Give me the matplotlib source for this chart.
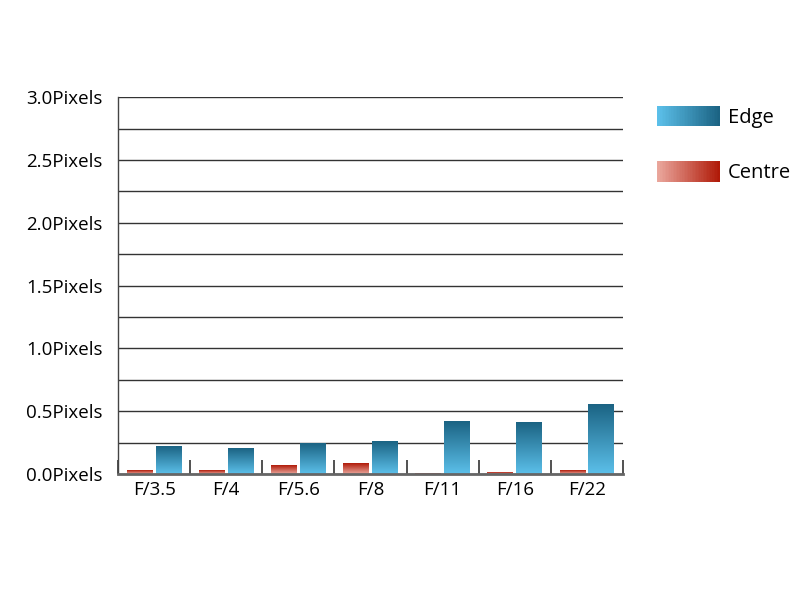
import numpy as np
import matplotlib
matplotlib.use("Agg")
import matplotlib.pyplot as plt
from matplotlib.colors import LinearSegmentedColormap
from matplotlib.patches import Rectangle
from matplotlib.legend_handler import HandlerBase

categories = ["F/3.5", "F/4", "F/5.6", "F/8", "F/11", "F/16", "F/22"]
centre = [0.03, 0.03, 0.065, 0.08, 0.005, 0.015, 0.03]
edge = [0.215, 0.205, 0.245, 0.26, 0.42, 0.41, 0.55]
ytick_values = [0.0, 0.5, 1.0, 1.5, 2.0, 2.5, 3.0]

edge_dark, edge_light = "#1b6383", "#5cc0ea"
centre_dark, centre_light = "#b01a08", "#eaa79d"

plt.rcParams['font.family'] = ['Open Sans', 'DejaVu Sans']

fig = plt.figure(figsize=(8, 6), dpi=100)
ax = fig.add_axes([0.1475, 0.21, 0.6313, 0.628])

x = np.arange(len(categories))
w = 0.36
b1 = ax.bar(x - 0.2, centre, w, color="none", edgecolor="none", zorder=3)
b2 = ax.bar(x + 0.2, edge, w, color="none", edgecolor="none", zorder=3)

def grad_cmap(light, dark):
    return LinearSegmentedColormap.from_list("g", [light, dark])

def fill_gradient(bars, light, dark):
    cm = grad_cmap(light, dark)
    grad = np.linspace(0, 1, 256).reshape(-1, 1)
    for p in bars:
        x0, y0 = p.get_x(), p.get_y()
        x1, y1 = x0 + p.get_width(), y0 + p.get_height()
        if y1 - y0 <= 0:
            continue
        ax.imshow(grad, cmap=cm, origin="lower", extent=[x0, x1, y0, y1],
                  aspect="auto", zorder=3, interpolation="bilinear")

fill_gradient(b1, centre_light, centre_dark)
fill_gradient(b2, edge_light, edge_dark)

ax.set_xlim(-0.5, len(categories) - 0.5)
ax.set_ylim(0, 3.0)
ax.set_aspect("auto")

ax.set_yticks(ytick_values)
ax.set_yticklabels([f"{v:.1f}Pixels" for v in ytick_values], fontsize=13.5)
ax.set_yticks(np.arange(0.25, 3.0, 0.5), minor=True)
ax.tick_params(axis="y", which="both", length=0, pad=11)
ax.grid(axis="y", which="both", color="#333333", linewidth=1.0, zorder=1)

ax.set_xticks(x)
ax.set_xticklabels(categories, fontsize=13.5)
ax.set_xticks(np.arange(-0.5, len(categories) + 0.5, 1.0), minor=True)
ax.tick_params(axis="x", which="major", length=0, pad=5)
ax.tick_params(axis="x", which="minor", direction="in", length=10,
               width=1.2, color="#333333")

for s in ["top", "right"]:
    ax.spines[s].set_visible(False)
ax.spines["left"].set_color("#444444")
ax.spines["left"].set_linewidth(1.0)
ax.spines["bottom"].set_color("#666666")
ax.spines["bottom"].set_linewidth(2.0)
ax.spines["bottom"].set_zorder(4)


class GradHandler(HandlerBase):
    def __init__(self, light, dark):
        super().__init__()
        self.light, self.dark = light, dark

    def create_artists(self, legend, orig_handle, xdescent, ydescent,
                       width, height, fontsize, trans):
        cm = grad_cmap(self.light, self.dark)
        n = 40
        arts = []
        for i in range(n):
            r = Rectangle((-xdescent + width * i / n, -ydescent), width / n + 0.3,
                          height, facecolor=cm(i / (n - 1)), edgecolor="none",
                          transform=trans)
            arts.append(r)
        return arts


h_edge = Rectangle((0, 0), 1, 1)
h_centre = Rectangle((0, 0), 1, 1)
leg = fig.legend([h_edge, h_centre], ["Edge", "Centre"],
                 handler_map={h_edge: GradHandler(edge_light, edge_dark),
                              h_centre: GradHandler(centre_light, centre_dark)},
                 loc="upper left", bbox_to_anchor=(0.811, 0.837),
                 borderaxespad=0, frameon=False, fontsize=14.5,
                 handlelength=3.13, handleheight=1.2,
                 labelspacing=1.65, handletextpad=0.4)

fig.savefig("out.png", dpi=100)
